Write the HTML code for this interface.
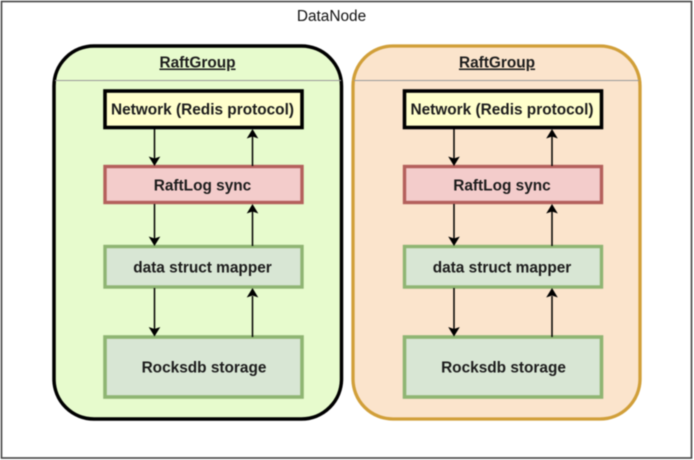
<!DOCTYPE html>
<html>
<head>
<meta charset="utf-8">
<style>
html,body{margin:0;padding:0;background:#fff;width:694px;height:460px;overflow:hidden}
svg{display:block;filter:blur(0.45px)}
text{font-family:"Liberation Sans",sans-serif;text-anchor:middle;fill:#111}
.b{font-weight:bold;font-size:15.4px;fill:#1c1c1c}
.u{text-decoration:underline}
</style>
</head>
<body>
<svg width="694" height="460" viewBox="0 0 694 460" xmlns="http://www.w3.org/2000/svg">
<defs>
<g id="inner">
  <rect x="0" y="0" width="197" height="36.5" fill="#ffffcc" stroke="#000" stroke-width="3.6"/>
  <rect x="0" y="75.5" width="197" height="36" fill="#f3cccb" stroke="#b4605c" stroke-width="3.4"/>
  <rect x="0" y="155.5" width="197" height="40.5" fill="#d8e6d4" stroke="#8fb573" stroke-width="3.4"/>
  <rect x="0" y="246" width="197" height="60" fill="#d8e6d4" stroke="#8fb573" stroke-width="3.6"/>

  <text class="b" x="97.5" y="23.5">Network (Redis protocol)</text>
  <text class="b" x="97.5" y="99.5">RaftLog sync</text>
  <text class="b" x="97.5" y="181.4">data struct mapper</text>
  <text class="b" x="99" y="281.5">Rocksdb storage</text>

  <g stroke="#000" stroke-width="1.5" fill="none">
    <line x1="49.5" y1="38" x2="49.5" y2="68"/>
    <line x1="49.5" y1="113" x2="49.5" y2="148"/>
    <line x1="49.5" y1="197" x2="49.5" y2="238"/>
    <line x1="147.5" y1="75" x2="147.5" y2="45"/>
    <line x1="147.5" y1="155" x2="147.5" y2="120"/>
    <line x1="147.5" y1="246" x2="147.5" y2="205"/>
  </g>
  <g fill="#000">
    <polygon points="43.7,65.5 49.5,67.5 55.3,65.5 49.5,75"/>
    <polygon points="43.7,145.5 49.5,147.5 55.3,145.5 49.5,155"/>
    <polygon points="43.7,236 49.5,238 55.3,236 49.5,245.5"/>
    <polygon points="141.7,47.5 147.5,45.5 153.3,47.5 147.5,38"/>
    <polygon points="141.7,122.5 147.5,120.5 153.3,122.5 147.5,113"/>
    <polygon points="141.7,206.5 147.5,204.5 153.3,206.5 147.5,197"/>
  </g>
</g>
</defs>

<rect x="1.5" y="1.5" width="690" height="456.5" fill="#fff" stroke="#444" stroke-width="1.6"/>
<text x="331.5" y="21" font-size="15.4" fill="#222">DataNode</text>

<rect x="54" y="46" width="287.5" height="373" rx="40" ry="40" fill="#e7fbcd" stroke="#000" stroke-width="3.5"/>
<line x1="55" y1="80.5" x2="341" y2="80.5" stroke="#9a9a9a" stroke-width="1"/>
<text class="b u" x="197.5" y="67.5">RaftGroup</text>
<g transform="translate(105,91)"><use href="#inner"/></g>

<rect x="353" y="46" width="287" height="373" rx="40" ry="40" fill="#fbe4cc" stroke="#d19f39" stroke-width="3.3"/>
<line x1="354" y1="80.5" x2="639" y2="80.5" stroke="#9a9a9a" stroke-width="1"/>
<text class="b u" x="497" y="67.5">RaftGroup</text>
<g transform="translate(404.5,91)"><use href="#inner"/></g>
</svg>
</body>
</html>
